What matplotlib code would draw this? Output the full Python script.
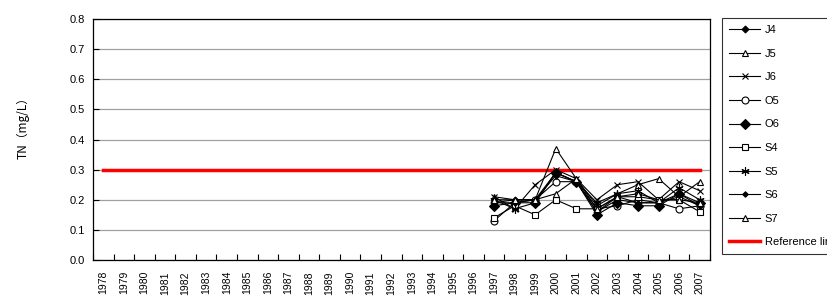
import numpy as np
import matplotlib
matplotlib.use("Agg")
import matplotlib.pyplot as plt

plt.rcParams['font.family'] = ['Liberation Sans', 'DejaVu Sans']

# 年（カテゴリ軸）
years = list(range(1978, 2008))
obs_years = list(range(1997, 2008))
# 基準値
reference = 0.3

# 各地点の TN (mg/L)
J4 = [0.19, 0.20, 0.20, 0.29, 0.26, 0.16, 0.20, 0.19, 0.19, 0.21, 0.18]
J5 = [0.21, 0.20, 0.20, 0.37, 0.27, 0.18, 0.22, 0.25, 0.27, 0.21, 0.26]
J6 = [0.21, 0.17, 0.25, 0.30, 0.27, 0.20, 0.25, 0.26, 0.20, 0.26, 0.23]
O5 = [0.13, 0.19, 0.20, 0.26, 0.26, 0.17, 0.18, 0.20, 0.19, 0.17, 0.18]
O6 = [0.18, 0.19, 0.19, 0.29, 0.26, 0.15, 0.19, 0.18, 0.18, 0.22, 0.19]
S4 = [0.14, 0.18, 0.15, 0.20, 0.17, 0.17, 0.21, 0.21, 0.20, 0.20, 0.16]
S5 = [0.20, 0.17, 0.19, 0.29, 0.26, 0.19, 0.22, 0.23, 0.19, 0.24, 0.20]
S6 = [0.19, 0.19, 0.20, 0.28, 0.26, 0.16, 0.21, 0.19, 0.19, 0.22, 0.18]
S7 = [0.20, 0.20, 0.20, 0.22, 0.27, 0.17, 0.21, 0.22, 0.20, 0.20, 0.19]

series = [
    ("J4", J4, dict(marker="D", ms=3.5, mfc="black")),
    ("J5", J5, dict(marker="^", ms=5, mfc="white")),
    ("J6", J6, dict(marker="x", ms=5, mfc="black")),
    ("O5", O5, dict(marker="o", ms=5, mfc="white")),
    ("O6", O6, dict(marker="D", ms=5, mfc="black")),
    ("S4", S4, dict(marker="s", ms=5, mfc="white")),
    ("S5", S5, dict(marker=(6, 2, 0), ms=6, mfc="black")),
    ("S6", S6, dict(marker="D", ms=2.8, mfc="black")),
    ("S7", S7, dict(marker="^", ms=5, mfc="white")),
]

fig = plt.figure(figsize=(8.27, 3.0), dpi=100)
ax = fig.add_axes([0.1125, 0.1333, 0.746, 0.8034])

x_all = np.arange(len(years))
x_obs = np.array([years.index(y) for y in obs_years])

for name, vals, st in series:
    ax.plot(x_obs, vals, color="black", linewidth=0.8, mec="black",
            mew=0.8, label=name, **st)

ax.plot(x_all, [reference] * len(years), color="red", linewidth=2.5,
        label="Reference line", zorder=1)

# 軸設定
ax.set_xlim(-0.5, len(years) - 0.5)
ax.set_ylim(0.0, 0.8)
ax.set_yticks(np.arange(0, 0.81, 0.1))
ax.set_yticklabels([f"{v:.1f}" for v in np.arange(0, 0.81, 0.1)], fontsize=8)
ax.set_xticks(x_all)
ax.set_xticklabels([str(y) for y in years], rotation=90, fontsize=7.5)
ax.set_xticks(np.arange(-0.5, len(years), 1.0), minor=True)
ax.tick_params(axis="x", which="major", length=0, pad=8)
ax.tick_params(axis="x", which="minor", direction="in", length=4, width=0.8)
ax.tick_params(axis="y", direction="in", length=4, width=0.8, pad=6)
ax.grid(axis="y", color="#a0a0a0", linewidth=0.9)
ax.set_axisbelow(True)
for sp in ax.spines.values():
    sp.set_linewidth(0.9)
    sp.set_color("black")

ax.set_ylabel("TN（mg/L）", fontsize=8.5,
              family=["Noto Sans CJK JP", "DejaVu Sans"])
ax.yaxis.set_label_coords(-0.103, 0.56)

# 凡例（右端は参照図と同じく図の外にはみ出す）
leg = fig.legend(loc="upper left", bbox_to_anchor=(722 / 827, 1 - 18 / 300),
                 fontsize=8, frameon=True, fancybox=False, edgecolor="black",
                 labelspacing=1.22, handlelength=2.8, handletextpad=0.4,
                 borderpad=0.65, borderaxespad=0)
leg.get_frame().set_linewidth(0.8)

fig.savefig("out.png", dpi=100)
